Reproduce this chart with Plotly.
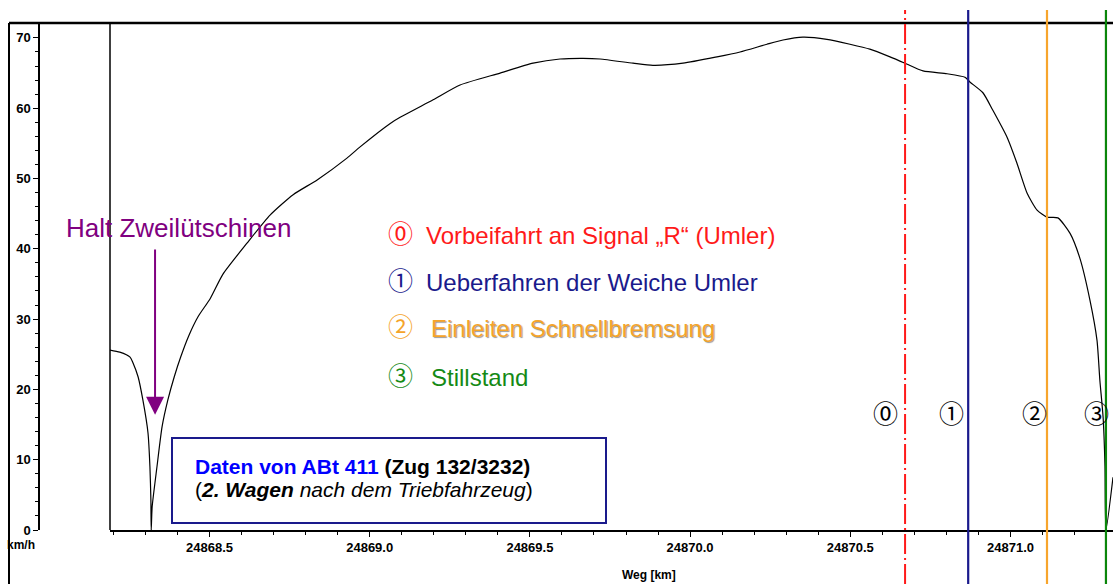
import plotly.graph_objects as go

# ---- data ----
dist_km = [24868.189, 24868.220, 24868.252, 24868.261, 24868.277, 24868.292, 24868.308,
           24868.314, 24868.317, 24868.318, 24868.321, 24868.336, 24868.352, 24868.370,
           24868.390, 24868.410, 24868.435, 24868.465, 24868.502, 24868.542, 24868.617,
           24868.689, 24868.761, 24868.836, 24868.929, 24868.970, 24869.063, 24869.095,
           24869.198, 24869.282, 24869.407, 24869.510, 24869.594, 24869.666, 24869.719,
           24869.822, 24869.884, 24869.978, 24870.084, 24870.156, 24870.240, 24870.290,
           24870.352, 24870.427, 24870.499, 24870.561, 24870.624, 24870.671, 24870.727,
           24870.802, 24870.858, 24870.874, 24870.914, 24870.945, 24870.989, 24871.020,
           24871.052, 24871.083, 24871.114, 24871.148, 24871.186, 24871.217, 24871.248,
           24871.270, 24871.279, 24871.289, 24871.295, 24871.298, 24871.320]
speed_kmh = [25.6, 25.3, 24.6, 23.8, 21.8, 18.5, 13.8,
             9.0, 4.3, 0.0, 3.3, 9.0, 14.7, 18.5,
             21.8, 24.6, 27.6, 30.4, 32.9, 36.4, 40.8,
             44.8, 47.7, 49.8, 52.9, 54.5, 57.8, 58.7,
             61.2, 63.3, 65.0, 66.4, 67.0, 67.1, 67.0,
             66.4, 66.1, 66.4, 67.3, 68.0, 69.1, 69.7,
             70.1, 69.8, 69.1, 68.4, 67.3, 66.4, 65.3,
             64.9, 64.4, 63.7, 62.2, 59.7, 55.9, 52.2,
             47.9, 45.5, 44.5, 44.4, 42.2, 38.6, 32.7,
             27.0, 21.3, 16.1, 9.0, 0.0, 7.5]

event_km = [24870.671, 24870.868, 24871.114, 24871.298]
event_labels = ["\u24ea", "\u2460", "\u2461", "\u2462"]
event_colors = ["#FF1A1A", "#1A1A8C", "#F7A52C", "#0A860A"]
event_texts = ["Vorbeifahrt an Signal \u201eR\u201c (Umler)",
               "Ueberfahren der Weiche Umler",
               "Einleiten Schnellbremsung",
               "Stillstand"]
event_text_colors = ["#FF1A1A", "#1A1A8C", "#F5A42A", "#158A15"]

x_major = [24868.5, 24869.0, 24869.5, 24870.0, 24870.5, 24871.0]
x_minor = [24868.2, 24868.3, 24868.4, 24868.6, 24868.7, 24868.8, 24868.9,
           24869.1, 24869.2, 24869.3, 24869.4, 24869.6, 24869.7, 24869.8, 24869.9,
           24870.1, 24870.2, 24870.3, 24870.4, 24870.6, 24870.7, 24870.8, 24870.9,
           24871.1, 24871.2, 24871.3]
x_range = [24868.1894, 24871.320]
y_range = [0, 72.12]

halt_km, halt_tip, halt_tail = 24868.330, 16.4, 40.1

W, H = 1113, 584
ML, MR, MT, MB = 0, 0, 23, 54
PH = H - MT - MB

def px(xpix):
    return xpix / W

def py(ypix):
    return (H - MB - ypix) / PH

fig = go.Figure()
fig.add_trace(go.Scatter(x=dist_km, y=speed_kmh, mode="lines",
                         line=dict(color="black", width=1.2, shape="spline", smoothing=0.6),
                         hoverinfo="skip", showlegend=False))

tickfont = dict(family="Arial", size=13, color="black", weight="bold")

fig.update_layout(
    width=W, height=H,
    margin=dict(l=ML, r=MR, t=MT, b=MB, pad=0),
    paper_bgcolor="white", plot_bgcolor="white",
    showlegend=False,
    xaxis=dict(domain=[px(110), 1], range=x_range, autorange=False,
               showgrid=False, zeroline=False, showline=True,
               linecolor="black", linewidth=1.5,
               ticks="outside", ticklen=5, tickwidth=1.2, tickcolor="black",
               tickmode="array", tickvals=x_major,
               ticktext=[f"{v:.1f}" for v in x_major],
               minor=dict(tickmode="array", tickvals=x_minor, ticks="outside",
                          ticklen=3, tickcolor="black", tickwidth=1),
               tickfont=tickfont),
    yaxis=dict(anchor="free", position=px(39), domain=[0, 1],
               range=y_range, autorange=False,
               showgrid=False, zeroline=False, showline=True,
               linecolor="black", linewidth=1.5,
               ticks="outside", ticklen=5, tickwidth=1.2, tickcolor="black",
               dtick=10, tick0=0,
               minor=dict(dtick=2, ticks="outside", ticklen=3,
                          tickcolor="black", tickwidth=1),
               tickfont=tickfont),
)

shapes = []
# frame lines
shapes.append(dict(type="line", xref="paper", yref="paper",
                   x0=px(9), x1=px(9), y0=py(H), y1=1,
                   line=dict(color="black", width=2)))
shapes.append(dict(type="line", xref="paper", yref="paper",
                   x0=px(9), x1=1, y0=1, y1=1,
                   line=dict(color="black", width=2.5)))
shapes.append(dict(type="line", xref="x domain", yref="paper",
                   x0=0, x1=0, y0=0, y1=1,
                   line=dict(color="black", width=1.5)))
# event lines
for i, (xk, col) in enumerate(zip(event_km, event_colors)):
    shapes.append(dict(type="line", xref="x", yref="paper",
                       x0=xk, x1=xk, y0=py(H), y1=py(10),
                       line=dict(color=col, width=2.2 if i else 2,
                                 dash="20px,4px,2px,4px" if i == 0 else "solid")))
# data box
shapes.append(dict(type="rect", xref="paper", yref="paper",
                   x0=px(172), x1=px(606), y0=py(523), y1=py(438),
                   line=dict(color="#1A1A8C", width=2), fillcolor="white",
                   layer="above"))
fig.update_layout(shapes=shapes)

ann = []
# axis labels
ann.append(dict(text="km/h", xref="paper", yref="paper", x=px(37), y=py(545),
                xanchor="right", yanchor="middle", showarrow=False,
                font=dict(family="Arial", size=12, color="black", weight="bold")))
ann.append(dict(text="Weg [km]", xref="paper", yref="paper", x=px(649), y=py(575),
                xanchor="center", yanchor="middle", showarrow=False,
                font=dict(family="Arial", size=12, color="black", weight="bold")))
# Halt annotation
ann.append(dict(text="Halt Zweilütschinen", xref="paper", yref="paper",
                x=px(178), y=py(228), xanchor="center", yanchor="middle",
                showarrow=False, font=dict(family="Arial", size=26, color="#800080")))
ann.append(dict(text="", x=halt_km, y=halt_tip, ax=halt_km, ay=halt_tail,
                xref="x", yref="y", axref="x", ayref="y", showarrow=True,
                arrowhead=2, arrowsize=1.8, arrowwidth=2, arrowcolor="#800080",
                standoff=0))
# legend lines
leg_y = [234, 281, 327, 376]
leg_tx = [424, 424, 429, 429]
for i in range(4):
    ann.append(dict(text=event_labels[i], xref="paper", yref="paper",
                    x=px(400), y=py(leg_y[i] - 2), xanchor="center", yanchor="middle",
                    showarrow=False,
                    font=dict(family="Noto Sans CJK JP", size=25,
                              color=event_text_colors[i])))
    f = dict(family="Arial", size=24, color=event_text_colors[i])
    if i == 2:
        f["shadow"] = "1px 1px 1px #999999"
    ann.append(dict(text=event_texts[i], xref="paper", yref="paper",
                    x=px(leg_tx[i]), y=py(leg_y[i] + 1), xanchor="left", yanchor="middle",
                    showarrow=False, font=f))
# bottom circled markers
mark_x = [885, 951, 1034, 1096]
for i in range(4):
    ann.append(dict(text=event_labels[i], xref="paper", yref="paper",
                    x=px(mark_x[i]), y=py(412), xanchor="center", yanchor="middle",
                    showarrow=False,
                    font=dict(family="Noto Sans CJK JP", size=25, color="black")))
# data box text
ann.append(dict(text="<b><span style='color:#0000FF'>Daten von ABt 411</span> (Zug 132/3232)</b>",
                xref="paper", yref="paper", x=px(193), y=py(466),
                xanchor="left", yanchor="middle", showarrow=False,
                font=dict(family="Arial", size=21, color="black")))
ann.append(dict(text="(<b><i>2. Wagen</i></b><i> nach dem Triebfahrzeug</i>)",
                xref="paper", yref="paper", x=px(193), y=py(489),
                xanchor="left", yanchor="middle", showarrow=False,
                font=dict(family="Arial", size=21, color="black")))
fig.update_layout(annotations=ann)

fig.write_html("out.html", config={"displayModeBar": False},
               post_script="document.body.style.margin='0';")
